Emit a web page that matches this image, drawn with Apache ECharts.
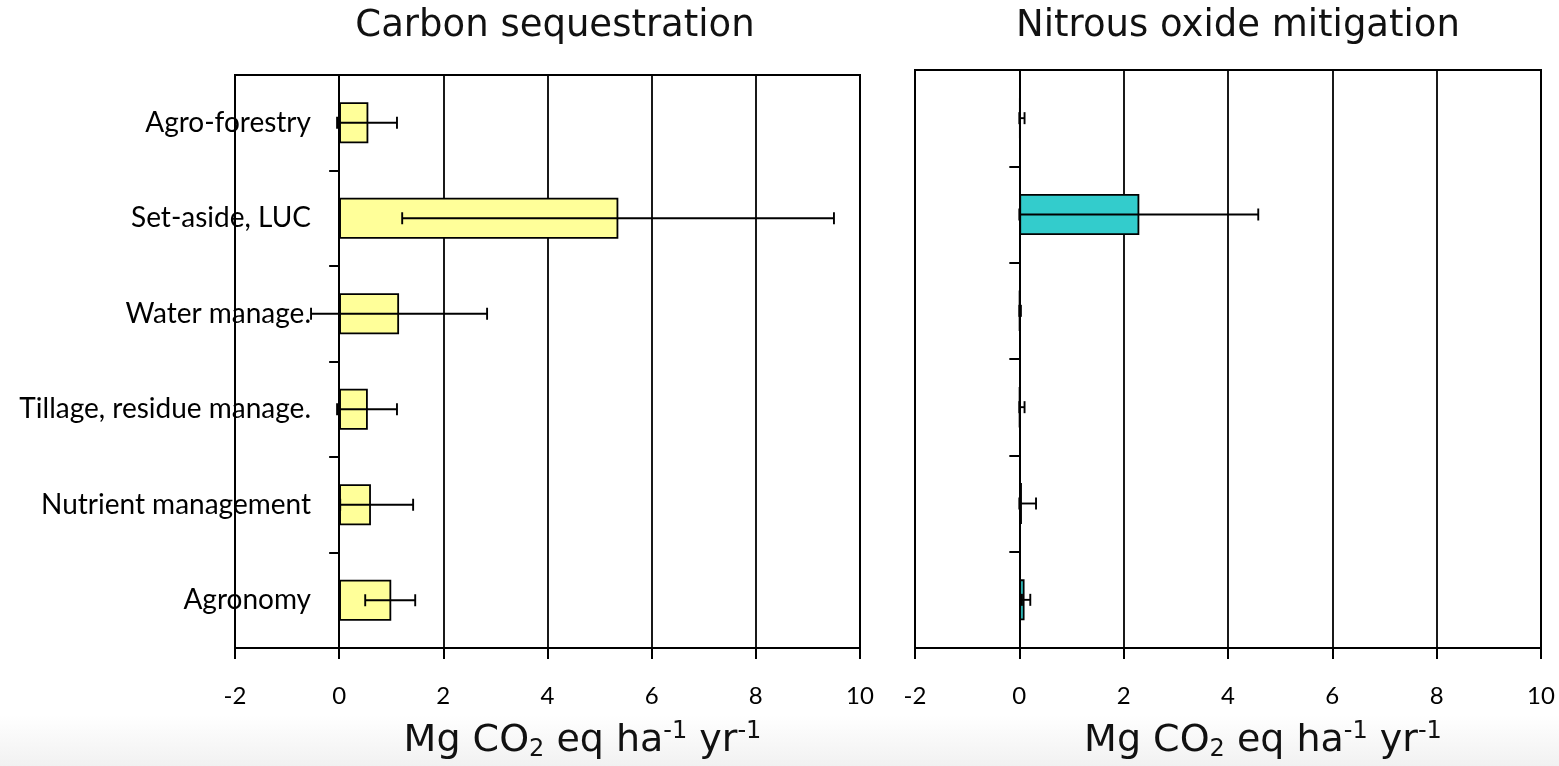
<!DOCTYPE html>
<html>
<head>
<meta charset="utf-8">
<script src="https://cdn.jsdelivr.net/npm/echarts@6/dist/echarts.min.js"></script>
<style>
  html, body { margin: 0; padding: 0; background: #ffffff; }
  #chart { width: 1559px; height: 766px; }
</style>
</head>
<body>
<div id="chart"></div>
<script>
// Practice categories, listed top to bottom
const categories = ['Agro-forestry', 'Set-aside, LUC', 'Water manage.', 'Tillage, residue manage.', 'Nutrient management', 'Agronomy'];

// Carbon sequestration (Mg CO2 eq ha-1 yr-1): mean and error-bar ends
const carbonMean = [0.56, 5.36, 1.15, 0.55, 0.61, 1.0];
const carbonLow  = [-0.04, 1.21, -0.54, -0.04, 0.02, 0.5];
const carbonHigh = [1.11, 9.5, 2.84, 1.11, 1.42, 1.46];

// Nitrous oxide mitigation (Mg CO2 eq ha-1 yr-1): mean and error-bar ends
const nitrousMean = [0.02, 2.3, 0.01, 0.01, 0.05, 0.1];
const nitrousLow  = [0.0, 0.0, 0.0, 0.0, 0.0, 0.05];
const nitrousHigh = [0.1, 4.58, 0.03, 0.1, 0.32, 0.21];

// Value axis ticks
const xMin = -2, xMax = 10, xStep = 2;

const titleFont = 'DejaVu Sans';
const labelFont = 'Lato';

function errorBarRender(params, api) {
  const cat = api.value(0);
  const lo = api.coord([api.value(1), cat]);
  const hi = api.coord([api.value(2), cat]);
  const cap = 6;
  const style = { stroke: '#000', lineWidth: 1.9, fill: null };
  return {
    type: 'group',
    children: [
      { type: 'line', shape: { x1: lo[0], y1: lo[1], x2: hi[0], y2: hi[1] }, style },
      { type: 'line', shape: { x1: lo[0], y1: lo[1] - cap, x2: lo[0], y2: lo[1] + cap }, style },
      { type: 'line', shape: { x1: hi[0], y1: hi[1] - cap, x2: hi[0], y2: hi[1] + cap }, style }
    ]
  };
}

const axisNameRich = {
  rich: {
    m: { fontFamily: titleFont, fontSize: 38, color: '#111' },
    sub: { fontFamily: titleFont, fontSize: 24, color: '#111', verticalAlign: 'bottom', padding: [18, 0, 0, 0] },
    sup: { fontFamily: titleFont, fontSize: 24, color: '#111', verticalAlign: 'top', padding: [0, 0, 16, 0] }
  }
};
const axisNameText = '{m|Mg CO}{sub|2}{m| eq ha}{sup|-1}{m| yr}{sup|-1}';

function makeXAxis(gridIndex) {
  return {
    type: 'value', gridIndex, min: xMin, max: xMax, interval: xStep,
    axisLine: { onZero: false, lineStyle: { color: '#000', width: 2 } },
    axisTick: { show: true, length: 11, inside: false, lineStyle: { color: '#000', width: 2 } },
    axisLabel: { fontFamily: labelFont, fontSize: 24, color: '#000', margin: 36 },
    splitLine: { show: true, lineStyle: { color: '#000', width: 1.8 } },
    name: axisNameText, nameLocation: 'middle', nameGap: 72,
    nameTextStyle: Object.assign({ padding: [0, 0, 0, 70] }, axisNameRich)
  };
}

function makeYAxis(gridIndex, showLabels) {
  return {
    type: 'category', gridIndex, data: categories, inverse: true,
    axisLine: { show: true, onZero: true, lineStyle: { color: '#000', width: 2 } },
    axisTick: { show: true, length: 10, lineStyle: { color: '#000', width: 2 } },
    axisLabel: { show: showLabels, fontFamily: labelFont, fontSize: 28, color: '#000', margin: -76 },
    splitLine: { show: false }
  };
}

const chart = echarts.init(document.getElementById('chart'), null, { renderer: 'canvas' });

chart.setOption({
  backgroundColor: '#ffffff',
  animation: false,
  graphic: [
    {
      // soft grey haze along the lower edge
      type: 'rect', left: 0, top: 715, z: -10, silent: true,
      shape: { width: 1559, height: 51 },
      style: {
        fill: new echarts.graphic.LinearGradient(0, 0, 0, 1, [
          { offset: 0, color: 'rgba(200,200,200,0)' },
          { offset: 1, color: 'rgba(200,200,200,0.25)' }
        ])
      }
    }
  ],
  title: [
    { text: 'Carbon sequestration', left: 550, top: 3, textAlign: 'center',
      textStyle: { fontFamily: titleFont, fontWeight: 'normal', fontSize: 37, color: '#111' } },
    { text: 'Nitrous oxide mitigation', left: 1233, top: 3, textAlign: 'center',
      textStyle: { fontFamily: titleFont, fontWeight: 'normal', fontSize: 37, color: '#111' } }
  ],
  grid: [
    { left: 235, right: 699, top: 75, bottom: 118, show: true, borderColor: '#000', borderWidth: 2,
      backgroundColor: 'transparent', outerBoundsMode: 'none', containLabel: false },
    { left: 915, right: 18, top: 70, bottom: 118, show: true, borderColor: '#000', borderWidth: 2,
      backgroundColor: 'transparent', outerBoundsMode: 'none', containLabel: false }
  ],
  xAxis: [makeXAxis(0), makeXAxis(1)],
  yAxis: [makeYAxis(0, true), makeYAxis(1, false)],
  series: [
    {
      type: 'bar', xAxisIndex: 0, yAxisIndex: 0, data: carbonMean, barWidth: 41,
      itemStyle: { color: '#FFFF99', borderColor: '#000', borderWidth: 1.8 }
    },
    {
      type: 'custom', xAxisIndex: 0, yAxisIndex: 0, renderItem: errorBarRender, z: 5,
      encode: { x: [1, 2], y: 0 },
      data: categories.map((c, i) => [i, carbonLow[i], carbonHigh[i]])
    },
    {
      type: 'bar', xAxisIndex: 1, yAxisIndex: 1, data: nitrousMean, barWidth: 41,
      itemStyle: { color: '#33CCCC', borderColor: '#000', borderWidth: 1.8 }
    },
    {
      type: 'custom', xAxisIndex: 1, yAxisIndex: 1, renderItem: errorBarRender, z: 5,
      encode: { x: [1, 2], y: 0 },
      data: categories.map((c, i) => [i, nitrousLow[i], nitrousHigh[i]])
    }
  ]
});
</script>
</body>
</html>
